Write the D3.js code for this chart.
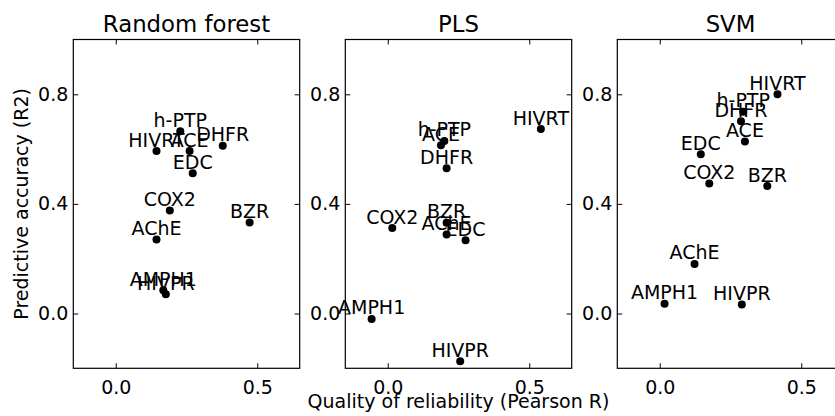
<!DOCTYPE html>
<meta charset="utf-8">
<style>
body { margin: 0; background: #fff; }
svg { display: block; font-family: "DejaVu Sans", sans-serif; }
.frame { fill: none; stroke: #000; stroke-width: 1.2; }
.tick line { stroke: #000; }
.tick text { font-size: 19px; fill: #000; }
.label { font-size: 19px; }
.title { font-size: 22.8px; }
</style>
<svg width="835" height="416"></svg>
<script src="https://d3js.org/d3.v7.min.js"></script>
<script>

var compounds = ["ACE", "AChE", "AMPH1", "BZR", "COX2", "DHFR", "EDC", "h-PTP", "HIVPR", "HIVRT"];

var models = ["Random forest", "PLS", "SVM"];

// quality of reliability (Pearson R), one value per compound
var rfX  = [0.261, 0.144, 0.168, 0.473, 0.191, 0.378, 0.272, 0.228, 0.177, 0.144];
var plsX = [0.188, 0.208, -0.057, 0.208, 0.016, 0.208, 0.275, 0.200, 0.256, 0.541];
var svmX = [0.301, 0.123, 0.017, 0.380, 0.175, 0.287, 0.145, 0.295, 0.290, 0.416];

// predictive accuracy (R2)
var rfY  = [0.593, 0.270, 0.085, 0.332, 0.376, 0.612, 0.512, 0.665, 0.070, 0.593];
var plsY = [0.614, 0.288, -0.020, 0.331, 0.312, 0.530, 0.267, 0.630, -0.174, 0.673];
var svmY = [0.628, 0.181, 0.036, 0.465, 0.474, 0.702, 0.581, 0.736, 0.033, 0.800];

var xTicks = [0.0, 0.5];
var yTicks = [0.0, 0.4, 0.8];

var seriesX = [rfX, plsX, svmX];
var seriesY = [rfY, plsY, svmY];

var svg = d3.select("svg");

var panelW = 226.4, panelH = 328.8, plotTop = 39.5,
    lefts = [73.3, 345.3, 617.3];

var y = d3.scaleLinear().domain([-0.2, 1.0]).range([plotTop + panelH, plotTop]);

models.forEach(function(name, i) {
  var x = d3.scaleLinear().domain([-0.15, 0.65]).range([lefts[i], lefts[i] + panelW]);
  var g = svg.append("g");

  // ticks point inward on every side
  g.append("g")
      .attr("transform", "translate(0," + (plotTop + panelH) + ")")
      .call(d3.axisBottom(x).tickValues(xTicks).tickSize(-5).tickPadding(12.5).tickFormat(d3.format(".1f")))
    .call(function(a) { a.select(".domain").remove(); });
  g.append("g")
      .attr("transform", "translate(0," + plotTop + ")")
      .call(d3.axisTop(x).tickValues(xTicks).tickSize(-5).tickFormat(""))
    .call(function(a) { a.select(".domain").remove(); });
  g.append("g")
      .attr("transform", "translate(" + lefts[i] + ",0)")
      .call(d3.axisLeft(y).tickValues(yTicks).tickSize(-5).tickPadding(5).tickFormat(d3.format(".1f")))
    .call(function(a) { a.select(".domain").remove(); });
  g.append("g")
      .attr("transform", "translate(" + (lefts[i] + panelW) + ",0)")
      .call(d3.axisRight(y).tickValues(yTicks).tickSize(-5).tickFormat(""))
    .call(function(a) { a.select(".domain").remove(); });

  g.selectAll("g").attr("font-family", null).attr("font-size", null);

  g.append("rect")
      .attr("class", "frame")
      .attr("x", lefts[i])
      .attr("y", plotTop)
      .attr("width", panelW)
      .attr("height", panelH);

  g.append("text")
      .attr("class", "title")
      .attr("x", lefts[i] + panelW / 2)
      .attr("y", plotTop - 8)
      .attr("text-anchor", "middle")
      .text(name);

  var pts = compounds.map(function(c, j) {
    return { name: c, x: seriesX[i][j], y: seriesY[i][j] };
  });

  g.selectAll("circle")
    .data(pts)
    .enter().append("circle")
      .attr("cx", function(d) { return x(d.x); })
      .attr("cy", function(d) { return y(d.y); })
      .attr("r", 4)
      .attr("fill", "#000");

  g.selectAll(".label")
    .data(pts)
    .enter().append("text")
      .attr("class", "label")
      .attr("x", function(d) { return x(d.x); })
      .attr("y", function(d) { return y(d.y) - 4.5; })
      .attr("text-anchor", "middle")
      .text(function(d) { return d.name; });
});

svg.append("text")
    .attr("class", "label")
    .attr("transform", "translate(27.5," + (plotTop + panelH / 2) + ") rotate(-90)")
    .attr("text-anchor", "middle")
    .text("Predictive accuracy (R2)");

svg.append("text")
    .attr("class", "label")
    .attr("x", lefts[1] + panelW / 2)
    .attr("y", 408)
    .attr("text-anchor", "middle")
    .text("Quality of reliability (Pearson R)");

</script>
